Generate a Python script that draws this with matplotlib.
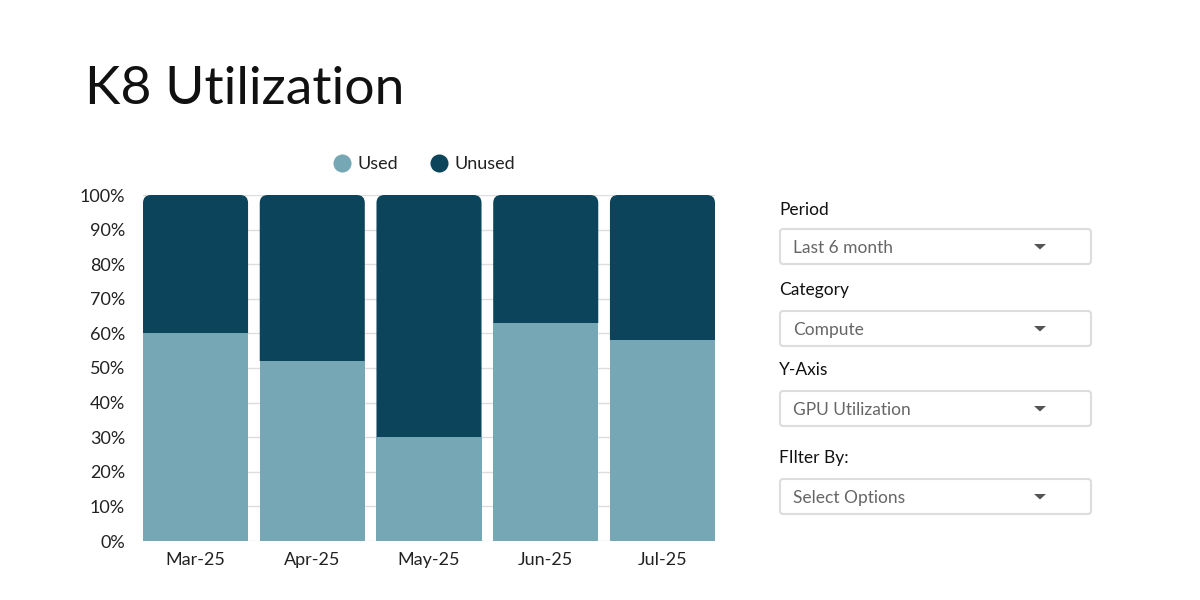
import matplotlib
matplotlib.use("Agg")
import matplotlib.pyplot as plt
from matplotlib.patches import FancyBboxPatch, Polygon, PathPatch
from matplotlib.path import Path
from matplotlib.lines import Line2D
from matplotlib.ticker import PercentFormatter

# ---- data ----
months = ["Mar-25", "Apr-25", "May-25", "Jun-25", "Jul-25"]
used = [60, 52, 30, 63, 58]
unused = [40, 48, 70, 37, 42]
yticks = [0, 10, 20, 30, 40, 50, 60, 70, 80, 90, 100]
series_names = ["Used", "Unused"]
filter_labels = ["Period", "Category", "Y-Axis", "FIlter By:"]
filter_values = ["Last 6 month", "Compute", "GPU Utilization", "Select Options"]

C_USED = "#76A7B5"
C_UNUSED = "#0C445C"
FONT = ["Lato", "DejaVu Sans"]
plt.rcParams["font.family"] = FONT

W, H = 1200, 600
fig = plt.figure(figsize=(12, 6), dpi=100)
fig.patch.set_facecolor("white")

# main chart axes (pixel layout)
x0, x1, ytop, ybot = 143, 715, 195, 541
ax = fig.add_axes([x0 / W, (H - ybot) / H, (x1 - x0) / W, (ybot - ytop) / H])
bw = 0.9
n = len(months)
ax.set_xlim(-bw / 2, n - 1 + bw / 2)
ax.set_ylim(0, 100)

# rounding size in data units (~8 px)
rx = 8 * (n - 1 + bw) / (x1 - x0)
ry = 8 * 100 / (ybot - ytop)


def top_rounded_bar(xc, bottom, height):
    xl, xr = xc - bw / 2, xc + bw / 2
    top = bottom + height
    verts = [(xl, bottom), (xr, bottom), (xr, top - ry),
             (xr, top), (xr - rx, top),
             (xl + rx, top),
             (xl, top), (xl, top - ry),
             (xl, bottom)]
    codes = [Path.MOVETO, Path.LINETO, Path.LINETO,
             Path.CURVE3, Path.CURVE3,
             Path.LINETO,
             Path.CURVE3, Path.CURVE3,
             Path.CLOSEPOLY]
    return PathPatch(Path(verts, codes), facecolor=C_UNUSED, edgecolor="none", zorder=2)


for i in range(n):
    ax.add_patch(top_rounded_bar(i, used[i], unused[i]))
ax.bar(range(n), used, width=bw, color=C_USED, zorder=3, linewidth=0)

ax.set_yticks(yticks)
ax.yaxis.set_major_formatter(PercentFormatter(decimals=0))
ax.set_xticks(range(n))
ax.set_xticklabels(months)
ax.grid(axis="y", color="#DDDDDD", linewidth=1, zorder=0)
ax.set_axisbelow(True)
for s in ax.spines.values():
    s.set_visible(False)
ax.tick_params(axis="both", length=0, labelsize=13, colors="#222222")
ax.tick_params(axis="y", pad=13)
ax.tick_params(axis="x", pad=8)

# legend
handles = [Line2D([], [], marker="o", linestyle="none", markersize=13,
                  markerfacecolor=c, markeredgecolor="none")
           for c in (C_USED, C_UNUSED)]
fig.legend(handles, series_names, loc="center", bbox_to_anchor=(424 / W, 1 - 164 / H),
           ncol=2, frameon=False, fontsize=13, handlelength=1.0, handletextpad=0.35,
           columnspacing=1.8, labelcolor="#222222")

# title
fig.text(85 / W, 1 - 90 / H, "K8 Utilization", fontsize=38.5, color="#111111",
         va="center", ha="left")

# overlay for the filter panel (pixel coordinates)
ov = fig.add_axes([0, 0, 1, 1], zorder=5)
ov.set_xlim(0, W)
ov.set_ylim(H, 0)
ov.axis("off")
ov.patch.set_alpha(0)

label_y = [210, 290, 370, 458]
box_top = [229, 311, 391, 479]
bh = 35
for lab, val, ly, bt in zip(filter_labels, filter_values, label_y, box_top):
    ov.text(779, ly, lab, fontsize=12.5, color="#111111", va="center", ha="left")
    box = FancyBboxPatch((780, bt), 311, bh, boxstyle="round,pad=0,rounding_size=3",
                         facecolor="white", edgecolor="#DDDDDD", linewidth=1.5)
    ov.add_patch(box)
    cy = bt + bh / 2
    ov.text(793, cy + 1.5, val, fontsize=12.5, color="#666666", va="center", ha="left")
    tri = Polygon([[1034, cy - 2.5], [1046, cy - 2.5], [1040, cy + 3]], closed=True,
                  facecolor="#555555", edgecolor="none")
    ov.add_patch(tri)

fig.savefig("out.png", dpi=100, facecolor="white")
